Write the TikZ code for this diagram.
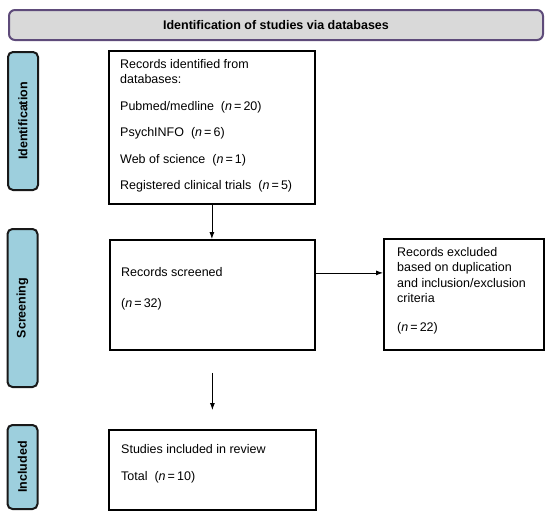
\documentclass[tikz,border=0pt]{standalone}
\usepackage{fontspec}
\setmainfont{Liberation Sans}
\usetikzlibrary{arrows.meta}
\definecolor{stagefill}{RGB}{157,207,221}
\definecolor{headfill}{RGB}{217,217,217}
\definecolor{headline}{RGB}{94,75,122}

\begin{document}
\begin{tikzpicture}[x=1pt, y=-1pt,
    stage/.style={draw=black!90, line width=2pt, rounded corners=5pt, fill=stagefill, rotate=90, minimum height=30pt, inner sep=0pt, font=\fontsize{12.5}{15}\selectfont\bfseries},
    box/.style={draw, line width=1.8pt, inner sep=0pt, anchor=north west},
    txt/.style={anchor=north west, inner sep=0pt, align=left, font=\fontsize{12.5}{15.5}\selectfont},
    arr/.style={-{Latex[length=7pt, width=5pt]}, line width=0.8pt}]
  \useasboundingbox (0,0) rectangle (550,517);

  % header
  \node[draw=headline, fill=headfill, line width=2pt, rounded corners=6pt, anchor=north west, minimum width=534pt, minimum height=30pt, font=\fontsize{12.5}{15}\selectfont\bfseries] (head) at (8,9) {Identification of studies via databases};

  % stages
  \node[stage, minimum width=138pt] (ident) at (23,121) {Identification};
  \node[stage, minimum width=158pt] (screening) at (22.5,308) {Screening};
  \node[stage, minimum width=84pt] (included) at (22.5,467) {Included};

  % boxes
  \node[box, minimum width=206pt, minimum height=153pt] (records) at (108,50) {};
  \node[box, minimum width=205pt, minimum height=110pt] (screen) at (109,239) {};
  \node[box, minimum width=160pt, minimum height=111pt] (excl) at (383,238) {};
  \node[box, minimum width=207pt, minimum height=80pt] (incl) at (108,429) {};

  \node[txt] (recordstxt) at (120,59) {Records identified from\\databases:\\[11pt]
    Pubmed/medline~ (\textit{n}\,=\,20)\\[11pt]
    PsychINFO~ (\textit{n}\,=\,6)\\[11pt]
    Web of science~ (\textit{n}\,=\,1)\\[11pt]
    Registered clinical trials~ (\textit{n}\,=\,5)};
  \node[txt] (screentxt) at (121,267) {Records screened\\[15.5pt](\textit{n}\,=\,32)};
  \node[txt] (excltxt) at (397,247) {Records excluded\\based on duplication\\and inclusion/exclusion\\criteria\\[13.5pt](\textit{n}\,=\,22)};
  \node[txt] (incltxt) at (121,444) {Studies included in review\\[11.5pt]Total~ (\textit{n}\,=\,10)};

  % arrows
  \draw[arr] (records.south) -- (records.south |- screen.north);
  \draw[arr] ([yshift=22pt]screen.east) -- ([yshift=22pt]screen.east -| excl.west);
  \draw[arr, shorten <=22pt, shorten >=19pt] (screen.south) -- (incl.north);
\end{tikzpicture}
\end{document}
